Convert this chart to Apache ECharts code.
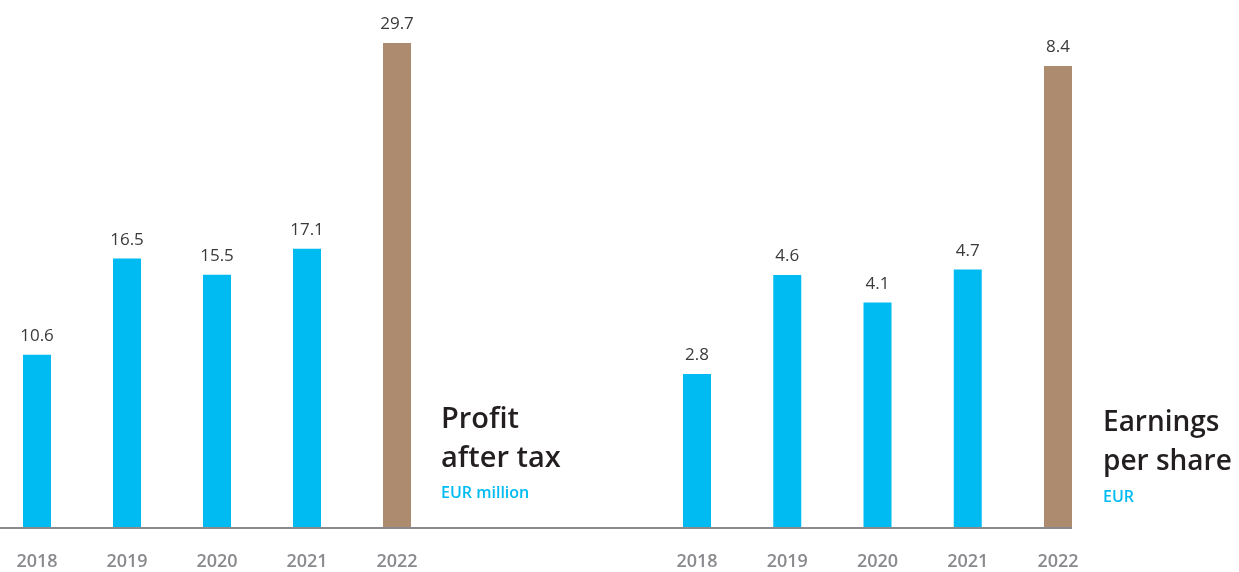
<!DOCTYPE html>
<html>
<head>
<meta charset="utf-8">
<script src="https://cdn.jsdelivr.net/npm/echarts@6/dist/echarts.min.js"></script>
<style>
  html, body { margin: 0; padding: 0; background: #ffffff; }
  #chart { width: 1239px; height: 572px; }
</style>
</head>
<body>
<div id="chart"></div>
<script>
// Fiscal years shown on both panels
const years = ['2018', '2019', '2020', '2021', '2022'];
// Profit after tax, EUR million
const profitAfterTax = [10.6, 16.5, 15.5, 17.1, 29.7];
// Earnings per share, EUR
const earningsPerShare = [2.8, 4.6, 4.1, 4.7, 8.4];

const BLUE = '#00bbf2';
const BROWN = '#ad8b6e';
const AXIS_GREY = '#8a8a8e';
const FONT = 'Open Sans';

// Latest year is highlighted in brown
function barColor(p) {
  return p.dataIndex === years.length - 1 ? BROWN : BLUE;
}

function barSeries(data, axisIndex) {
  return {
    type: 'bar',
    xAxisIndex: axisIndex,
    yAxisIndex: axisIndex,
    data: data,
    barWidth: 28,
    itemStyle: { color: barColor },
    label: {
      show: true,
      position: 'top',
      distance: 10,
      fontFamily: FONT,
      fontSize: 17,
      color: '#3a3a3a',
      formatter: p => p.value.toFixed(1)
    }
  };
}

// Bars sit on the category points, so the grid spans first-to-last bar centre
function categoryAxis(gridIndex) {
  return {
    type: 'category',
    gridIndex: gridIndex,
    data: years,
    boundaryGap: false,
    axisLine: { show: false },
    axisTick: { show: false },
    splitLine: { show: false },
    axisLabel: {
      color: AXIS_GREY,
      fontFamily: FONT,
      fontSize: 18,
      fontWeight: 600,
      margin: 25
    }
  };
}

function panelTitle(text, subtext, left, top, size) {
  return {
    text: text,
    subtext: subtext,
    left: left,
    top: top,
    padding: 0,
    itemGap: 6,
    textStyle: { fontFamily: FONT, fontSize: size, fontWeight: 600, lineHeight: 39, color: '#231f20' },
    subtextStyle: { fontFamily: FONT, fontSize: 16, fontWeight: 600, lineHeight: 18, color: BLUE }
  };
}

const chart = echarts.init(document.getElementById('chart'), null, { renderer: 'canvas' });

chart.setOption({
  animation: false,
  backgroundColor: '#ffffff',
  grid: [
    { left: 37, width: 360, top: 38, bottom: 44 },
    { left: 697, width: 361, top: 33, bottom: 44 }
  ],
  xAxis: [categoryAxis(0), categoryAxis(1)],
  yAxis: [
    { type: 'value', gridIndex: 0, min: 0, max: 30, show: false },
    { type: 'value', gridIndex: 1, min: 0, max: 9, show: false }
  ],
  title: [
    panelTitle('Profit\nafter tax', 'EUR million', 441, 400, 29),
    panelTitle('Earnings\nper share', 'EUR', 1103, 404, 28)
  ],
  // Shared baseline running under both panels
  graphic: [
    {
      type: 'line',
      z: 100,
      shape: { x1: 0, y1: 528, x2: 1072, y2: 528 },
      style: { stroke: AXIS_GREY, lineWidth: 2 }
    }
  ],
  series: [
    barSeries(profitAfterTax, 0),
    barSeries(earningsPerShare, 1)
  ]
});
</script>
</body>
</html>
